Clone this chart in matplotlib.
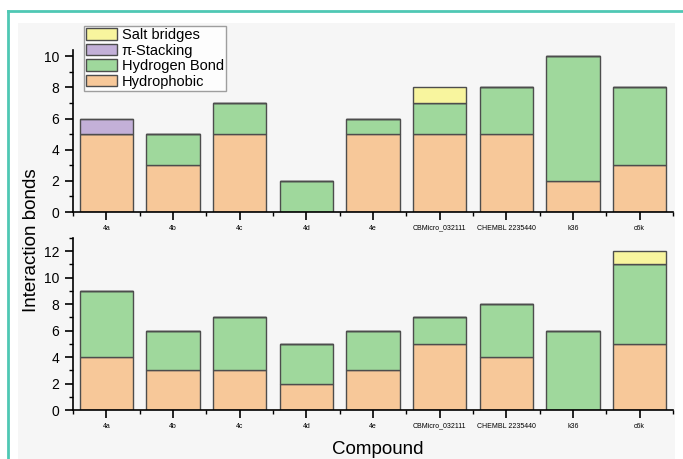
import matplotlib.pyplot as plt
import numpy as np
from matplotlib.patches import Rectangle
from matplotlib.lines import Line2D
from matplotlib.ticker import MultipleLocator

plt.rcParams['font.family'] = ['Liberation Sans', 'DejaVu Sans']

compounds = ['4a', '4b', '4c', '4d', '4e', 'CBMicro_032111', 'CHEMBL 2235440', 'k36', 'c6k']

# top panel
top_hydrophobic = [5, 3, 5, 0, 5, 5, 5, 2, 3]
top_hbond = [0, 2, 2, 2, 1, 2, 3, 8, 5]
top_pistack = [1, 0, 0, 0, 0, 0, 0, 0, 0]
top_salt = [0, 0, 0, 0, 0, 1, 0, 0, 0]

# bottom panel
bot_hydrophobic = [4, 3, 3, 2, 3, 5, 4, 0, 5]
bot_hbond = [5, 3, 4, 3, 3, 2, 4, 6, 6]
bot_pistack = [0, 0, 0, 0, 0, 0, 0, 0, 0]
bot_salt = [0, 0, 0, 0, 0, 0, 0, 0, 1]

labels = ['Hydrophobic', 'Hydrogen Bond', '\u03c0-Stacking', 'Salt bridges']
colors = ['#f7c899', '#9fd89c', '#c3b0d8', '#f8f59e']

W, H = 683, 459
fig = plt.figure(figsize=(6.83, 4.59), dpi=100)
fig.patch.set_facecolor('white')

# background panel and teal frame
bg = Rectangle((18 / W, 0), (675 - 18) / W, (H - 23) / H, transform=fig.transFigure,
               facecolor='#f6f6f6', edgecolor='none', zorder=-10)
fig.add_artist(bg)
fig.add_artist(Line2D([7.5 / W, 1], [1 - 11 / H, 1 - 11 / H], transform=fig.transFigure,
                      color='#4fc8b4', lw=2, zorder=-5))
fig.add_artist(Line2D([7.5 / W, 7.5 / W], [0, 1 - 11 / H], transform=fig.transFigure,
                      color='#4fc8b4', lw=2, zorder=-5))


def make_ax(top, bottom, ymax, series):
    ax = fig.add_axes([73 / W, 1 - bottom / H, (673 - 73) / W, (bottom - top) / H])
    ax.set_facecolor('none')
    x = np.arange(len(compounds))
    base = np.zeros(len(compounds))
    handles = []
    for vals, lab, c in zip(series, labels, colors):
        vals = np.array(vals, dtype=float)
        h = ax.bar(x, vals, 0.8, bottom=base, color=c, edgecolor='#4d4d4d',
                   linewidth=1.0, label=lab)
        handles.append(h)
        base += vals
    ax.set_xlim(-0.5, len(compounds) - 0.5)
    ax.set_ylim(0, ymax)
    ax.spines['top'].set_visible(False)
    ax.spines['right'].set_visible(False)
    for s in ('left', 'bottom'):
        ax.spines[s].set_linewidth(1.2)
    ax.set_xticks(x)
    ax.set_xticklabels(compounds, fontsize=5)
    ax.xaxis.set_minor_locator(MultipleLocator(1, offset=0.5))
    ax.yaxis.set_major_locator(MultipleLocator(2))
    ax.yaxis.set_minor_locator(MultipleLocator(1))
    ax.tick_params(axis='y', which='major', length=6, width=1.2, labelsize=10, pad=4)
    ax.tick_params(axis='y', which='minor', length=3, width=1.0)
    ax.tick_params(axis='x', which='major', length=6, width=1.2, pad=3)
    ax.tick_params(axis='x', which='minor', length=3, width=1.0)
    return ax, handles


ax1, handles = make_ax(50, 212, 10.4, [top_hydrophobic, top_hbond, top_pistack, top_salt])
ax2, _ = make_ax(238, 410, 13, [bot_hydrophobic, bot_hbond, bot_pistack, bot_salt])

ax1.legend(handles[::-1], labels[::-1], loc='upper left',
           bbox_to_anchor=(84 / W, 1 - 26 / H), bbox_transform=fig.transFigure,
           fontsize=10.5, frameon=True, fancybox=False, edgecolor='#888888',
           borderpad=0.15, labelspacing=0.1, handlelength=2.1, handleheight=0.85,
           handletextpad=0.35, borderaxespad=0)

fig.text(31 / W, 1 - 240 / H, 'Interaction bonds', rotation=90, ha='center',
         va='center', fontsize=13.5)
fig.text(378 / W, 1 - 450 / H, 'Compound', ha='center', va='center', fontsize=13.5)

fig.savefig('out.png', dpi=100)
